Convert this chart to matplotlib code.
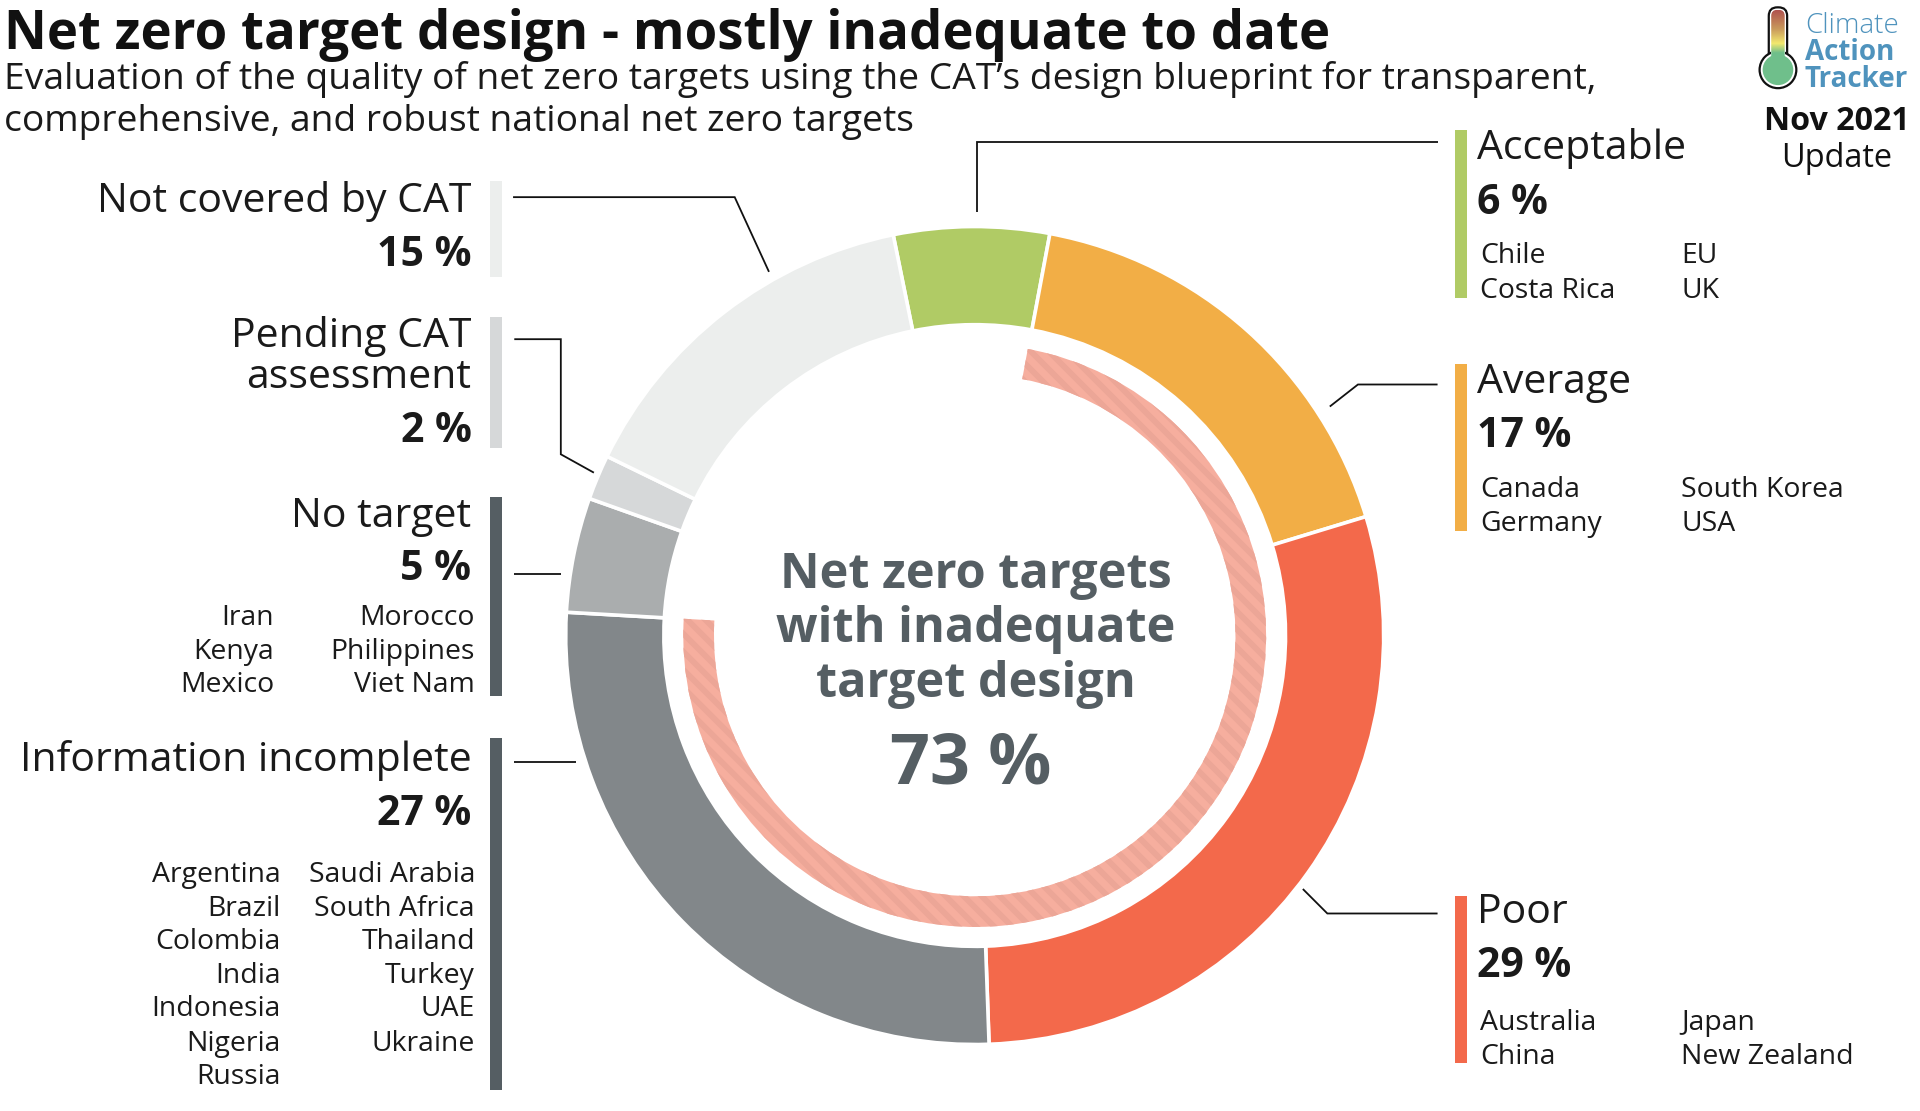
import numpy as np
import matplotlib
matplotlib.use("Agg")
import matplotlib.pyplot as plt
from matplotlib.collections import LineCollection
from matplotlib.colors import LinearSegmentedColormap
from matplotlib.patches import Circle, FancyBboxPatch, Rectangle

plt.rcParams['font.family'] = ['Open Sans', 'DejaVu Sans']

# ring shares, clockwise from "Acceptable"
categories = ["Acceptable", "Average", "Poor", "Information incomplete",
              "No target", "Pending CAT\nassessment", "Not covered by CAT"]
shares = [6.14, 17.36, 29.14, 26.47, 4.53, 1.78, 14.59]
share_labels = ["6 %", "17 %", "29 %", "27 %", "5 %", "2 %", "15 %"]
ring_colors = ["#B0CB65", "#F2AE46", "#F3694B", "#82878A", "#AAADAE", "#D6D8D9", "#ECEEED"]
bar_colors = ["#B0CB65", "#F2AE46", "#F3694B", "#555E63", "#555E63", "#D6D8D9", "#ECEEED"]

inadequate_share = 73

acceptable_a = ["Chile", "Costa Rica"]
acceptable_b = ["EU", "UK"]
average_a = ["Canada", "Germany"]
average_b = ["South Korea", "USA"]
poor_a = ["Australia", "China"]
poor_b = ["Japan", "New Zealand"]
no_target_a = ["Iran", "Kenya", "Mexico"]
no_target_b = ["Morocco", "Philippines", "Viet Nam"]
incomplete_a = ["Argentina", "Brazil", "Colombia", "India", "Indonesia", "Nigeria", "Russia"]
incomplete_b = ["Saudi Arabia", "South Africa", "Thailand", "Turkey", "UAE", "Ukraine"]

DARK = "#555E63"
INK = "#1A1A1A"
W, H = 1568, 907.3
CX, CY, R = 796, 519, 334

fig = plt.figure(figsize=(19.2, 11.11), dpi=100, facecolor="white")

# overlay in the coordinates of the picture, y going down
ax = fig.add_axes([0, 0, 1, 1])
ax.set_xlim(0, W)
ax.set_ylim(H, 0)
ax.axis("off")

# ring
m = 1.02
pie_ax = fig.add_axes([(CX - R * m) / W, 1 - (CY + R * m) / H, 2 * R * m / W, 2 * R * m / H])
pie_ax.pie(shares, colors=ring_colors, startangle=101.5, counterclock=False, radius=1.0,
           wedgeprops=dict(width=0.24, edgecolor="white", linewidth=2.6), frame=True)
arc, _ = pie_ax.pie([inadequate_share, 100 - inadequate_share], colors=["#F6AE9E", "white"],
                    startangle=79.5, counterclock=False, radius=0.7126,
                    wedgeprops=dict(width=0.075, edgecolor="none", linewidth=0),
                    frame=True)
arc[1].set_visible(False)

# soft diagonal stripes clipped to the arc
offsets = np.arange(-1.5, 1.5, 0.044)
segs = [[(-1, c + 1), (1, c - 1)] for c in offsets]
stripes = LineCollection(segs, colors="#ECA697", linewidths=4.2, zorder=arc[0].get_zorder() + 1)
pie_ax.add_collection(stripes)
stripes.set_clip_path(arc[0])

pie_ax.set_xlim(-m, m)
pie_ax.set_ylim(-m, m)
pie_ax.axis("off")
pie_ax.patch.set_alpha(0)


def t(x, y, s, size, ha="left", weight="normal", color=INK):
    ax.text(x, y, s, fontsize=size, ha=ha, va="baseline", fontweight=weight, color=color)


def column(x, ys, names, ha):
    for y, name in zip(ys, names):
        t(x, y, name, 20.4, ha=ha)


HEAD = 29.5
PCT = 29.5
CENTRE = 35

# title
t(3, 40, "Net zero target design - mostly inadequate to date", 38, weight="bold", color="#111111")
t(3, 73, "Evaluation of the quality of net zero targets using the CAT\u2019s design blueprint for transparent,", 26.8)
t(3, 107, "comprehensive, and robust national net zero targets", 26.8)

# side bars: x, top, bottom
bars = [(1188, 106, 243), (1188, 297, 434), (1188, 732, 868), (400, 603, 890),
        (400, 406, 568), (400, 259, 366), (400, 148, 226)]
for (x, top, bottom), c in zip(bars, bar_colors):
    ax.add_patch(Rectangle((x, top), 10, bottom - top, facecolor=c, edgecolor="none"))

# leader lines
leaders = [
    ([1174, 798, 798], [116, 116, 173]),
    ([1174, 1109, 1086], [314, 314, 332]),
    ([1174, 1084, 1064], [746, 746, 726]),
    ([420, 470], [622, 622]),
    ([420, 458], [469, 469]),
    ([420, 458, 458, 485], [277, 277, 371, 386]),
    ([419, 600, 628], [161, 161, 222]),
]
for xs, ys in leaders:
    ax.plot(xs, ys, color="#111111", lw=1.3, solid_joinstyle="miter", solid_capstyle="butt")

# right hand groups
t(1206, 130, categories[0], HEAD)
t(1206, 175, share_labels[0], PCT, weight="bold")
column(1209, [215, 243], acceptable_a, "left")
column(1373, [215, 243], acceptable_b, "left")

t(1206, 321, categories[1], HEAD)
t(1206, 365, share_labels[1], PCT, weight="bold")
column(1209, [406, 434], average_a, "left")
column(1373, [406, 434], average_b, "left")

t(1206, 754, categories[2], HEAD)
t(1206, 798, share_labels[2], PCT, weight="bold")
column(1209, [841, 869], poor_a, "left")
column(1373, [841, 869], poor_b, "left")

# left hand groups
t(385, 173, categories[6], HEAD, ha="right")
t(385, 217, share_labels[6], PCT, ha="right", weight="bold")

t(385, 283, "Pending CAT", HEAD, ha="right")
t(385, 317, "assessment", HEAD, ha="right")
t(385, 361, share_labels[5], PCT, ha="right", weight="bold")

t(385, 430, categories[4], HEAD, ha="right")
t(385, 474, share_labels[4], PCT, ha="right", weight="bold")
column(224, [510, 538, 565], no_target_a, "right")
column(388, [510, 538, 565], no_target_b, "right")

t(385, 630, categories[3], HEAD, ha="right")
t(385, 674, share_labels[3], PCT, ha="right", weight="bold")
rows = [720, 748, 775, 803, 830, 858, 885]
column(229, rows, incomplete_a, "right")
column(388, rows, incomplete_b, "right")

# centre
t(797, 480, "Net zero targets", CENTRE, ha="center", weight="bold", color=DARK)
t(797, 524, "with inadequate", CENTRE, ha="center", weight="bold", color=DARK)
t(797, 569, "target design", CENTRE, ha="center", weight="bold", color=DARK)
t(793, 640, f"{inadequate_share} %", 50.5, ha="center", weight="bold", color=DARK)

# logo
ax.add_patch(FancyBboxPatch((1444.5, 6), 15, 50, boxstyle="round,pad=0,rounding_size=7",
                            facecolor="white", edgecolor="#111111", lw=1.6, zorder=3))
ax.add_patch(Circle((1452, 57), 15, facecolor="white", edgecolor="#111111", lw=1.6, zorder=3))
ax.add_patch(Rectangle((1446, 40), 12, 20, facecolor="white", edgecolor="none", zorder=3.1))
cmap = LinearSegmentedColormap.from_list(
    "thermo", [(0, "#B0534F"), (0.35, "#C99A5C"), (0.62, "#F3E86E"), (0.8, "#6FBF8B"), (1, "#6FBF8B")])
tube = FancyBboxPatch((1446.5, 8), 11, 44, boxstyle="round,pad=0,rounding_size=5",
                      facecolor="none", edgecolor="none", zorder=3.2)
ax.add_patch(tube)
grad = ax.imshow(np.linspace(0, 1, 64).reshape(-1, 1), cmap=cmap, extent=(1446, 1458, 52, 8),
                 aspect="auto", zorder=3.3)
grad.set_clip_path(tube)
ax.add_patch(Circle((1452, 57), 12.5, facecolor="#6FBF8B", edgecolor="none", zorder=3.4))
ax.set_xlim(0, W)
ax.set_ylim(H, 0)
t(1474, 27, "Climate", 20, weight=300, color="#4F93BD")
t(1474, 49, "Action", 20, weight="bold", color="#4F93BD")
t(1474, 71, "Tracker", 20, weight="bold", color="#4F93BD")
t(1500, 106, "Nov 2021", 23.2, ha="center", weight="bold", color="#111111")
t(1500, 136, "Update", 23.4, ha="center", color="#111111")

fig.savefig("out.png", dpi=100, facecolor="white")
